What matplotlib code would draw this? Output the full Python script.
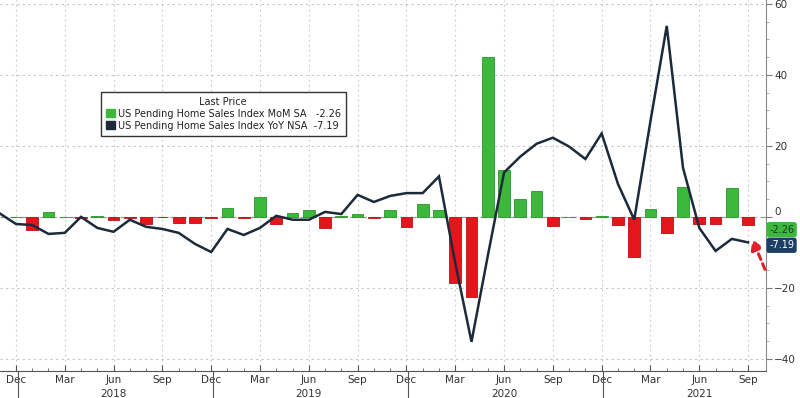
import matplotlib
matplotlib.use("Agg")
import matplotlib.pyplot as plt
from matplotlib.patches import Patch
import matplotlib.transforms as mtransforms

# Monthly data, Dec 2017 .. Sep 2021 (index 0 = Dec 2017)
# YoY line also has the Nov 2017 point (index -1), which runs off the left edge
yoy_idx = list(range(-1, 46))
yoy = [1.0, -2.0, -2.3, -4.8, -4.5, 0.0, -3.1, -4.2, -0.8, -2.8, -3.4, -4.5,
       -7.6, -9.9, -3.4, -5.1, -3.1, 0.3, -0.8, -0.8, 1.4, 0.8, 6.2, 4.2,
       5.9, 6.7, 6.7, 11.4, -13.0, -35.2, -11.0, 12.5, 17.0, 20.6, 22.3, 19.8,
       16.3, 23.5, 9.3, -0.8, 27.0, 53.8, 13.8, -3.1, -9.6, -6.2, -7.19]

mom_idx = list(range(0, 46))
mom = [0.0, -3.6, 1.5, 0.1, -0.2, 0.2, -1.0, -0.3, -2.0, -0.1, -1.8, -1.8,
       -0.2, 2.4, -0.3, 5.7, -2.0, 1.1, 1.8, -3.1, 0.2, 0.9, -0.2, 1.8,
       -2.8, 3.7, 1.9, -18.7, -22.6, 45.0, 13.3, 5.0, 7.4, -2.7, 0.0, -0.6,
       0.2, -2.2, -11.3, 2.1, -4.4, 8.4, -1.9, -1.9, 8.1, -2.26]

month_names = ["Dec", "Mar", "Jun", "Sep"]
years = ["2018", "2019", "2020", "2021"]

green = "#3cb93c"
red = "#e3161c"
navy = "#1c2a3a"

fig = plt.figure(figsize=(8, 3.98), dpi=100)
ax = fig.add_axes([0.0, 0.068, 0.9575, 0.932])

# grid
for v in [60, 40, 20, -20, -40]:
    ax.axhline(v, color="#c4c4c4", lw=0.8, ls=(0, (2, 3)), zorder=0)
ax.axhline(0, color="#9a9a9a", lw=0.9, ls=(0, (5, 3)), zorder=1)
for q in range(0, 46, 3):
    ax.axvline(q, color="#c8c8c8", lw=0.8, ls=(0, (1.5, 3)), zorder=0)

# bars
cols = [green if v >= 0 else red for v in mom]
edges = ["#2a962a" if v >= 0 else "#b81015" for v in mom]
ax.bar(mom_idx, mom, width=0.72, color=cols, edgecolor=edges, lw=0.6, zorder=2)

# line
ax.plot(yoy_idx, yoy, color=navy, lw=1.8, zorder=3, solid_joinstyle="miter")

ax.set_xlim(-0.98, 46.1)
ax.set_ylim(-43.4, 61.1)

# spines
for s in ["top", "left"]:
    ax.spines[s].set_visible(False)
ax.spines["right"].set_color("#8a8a8a")
ax.spines["bottom"].set_color("#555555")

# y axis on the right
ax.yaxis.tick_right()
ax.set_yticks([60, 40, 20, 0, -20, -40])
ax.set_yticks(range(-40, 61, 5), minor=True)
ax.tick_params(axis="y", which="major", direction="out", length=4, colors="#7a7a7a",
               labelcolor="#333333", labelsize=7.5, pad=2)
ax.tick_params(axis="y", which="minor", direction="out", length=2, colors="#9a9a9a")
for lab in ax.get_yticklabels():
    if lab.get_text() in ("0", "\u22120"):
        lab.set_va("bottom")

# x axis
qpos = list(range(0, 46, 3))
ax.set_xticks(qpos)
ax.set_xticklabels([month_names[(k // 3) % 4] for k in qpos])
ax.set_xticks(range(0, 46), minor=True)
ax.tick_params(axis="x", which="major", direction="in", length=4, colors="#555555",
               labelcolor="#333333", labelsize=7.5, pad=3)
ax.tick_params(axis="x", which="minor", direction="in", length=2.5, colors="#555555")

# year labels and separators
trans = mtransforms.blended_transform_factory(ax.transData, ax.transAxes)
for k, yr in enumerate(years):
    ax.text(6 + 12 * k, -0.062, yr, transform=trans, ha="center", va="center",
            fontsize=7.5, color="#333333")
    ax.plot([0.1 + 12 * k] * 2, [0, -0.075], transform=trans, color="#555555",
            lw=0.8, clip_on=False)

# legend
handles = [Patch(facecolor=green, edgecolor=green),
           Patch(facecolor=navy, edgecolor=navy)]
labels = ["US Pending Home Sales Index MoM SA   -2.26",
          "US Pending Home Sales Index YoY NSA  -7.19"]
leg = ax.legend(handles, labels, title="Last Price", loc="upper left",
                bbox_to_anchor=(0.132, 0.752), fontsize=7, title_fontsize=7,
                frameon=True, fancybox=False, handlelength=0.9, handleheight=0.9,
                handletextpad=0.3, borderpad=0.5, labelspacing=0.2,
                borderaxespad=0)
leg.get_frame().set_edgecolor("black")
leg.get_frame().set_linewidth(1.0)
leg.get_title().set_color("#222222")
for t in leg.get_texts():
    t.set_color("#222222")

# last value tags on the right axis
tag_trans = mtransforms.blended_transform_factory(ax.transAxes, ax.transData)
ax.text(1.004, -3.6, "-2.26", transform=tag_trans, ha="left", va="center",
        fontsize=7, color="#1a3a1a",
        bbox=dict(boxstyle="round,pad=0.2", fc=green, ec=green))
ax.text(1.004, -8.0, "-7.19", transform=tag_trans, ha="left", va="center",
        fontsize=7, color="white",
        bbox=dict(boxstyle="round,pad=0.2", fc="#1d3f66", ec="#1d3f66"))

# red dashed arrow pointing at the latest bar
ax.annotate("", xy=(45.2, -5.6), xytext=(46.1, -15.5),
            arrowprops=dict(arrowstyle="-|>,head_width=0.35,head_length=0.6",
                            color="#e0202a", lw=2.2, ls=(0, (2, 1.5))),
            annotation_clip=False, zorder=5)

fig.savefig("out.png", dpi=100)
